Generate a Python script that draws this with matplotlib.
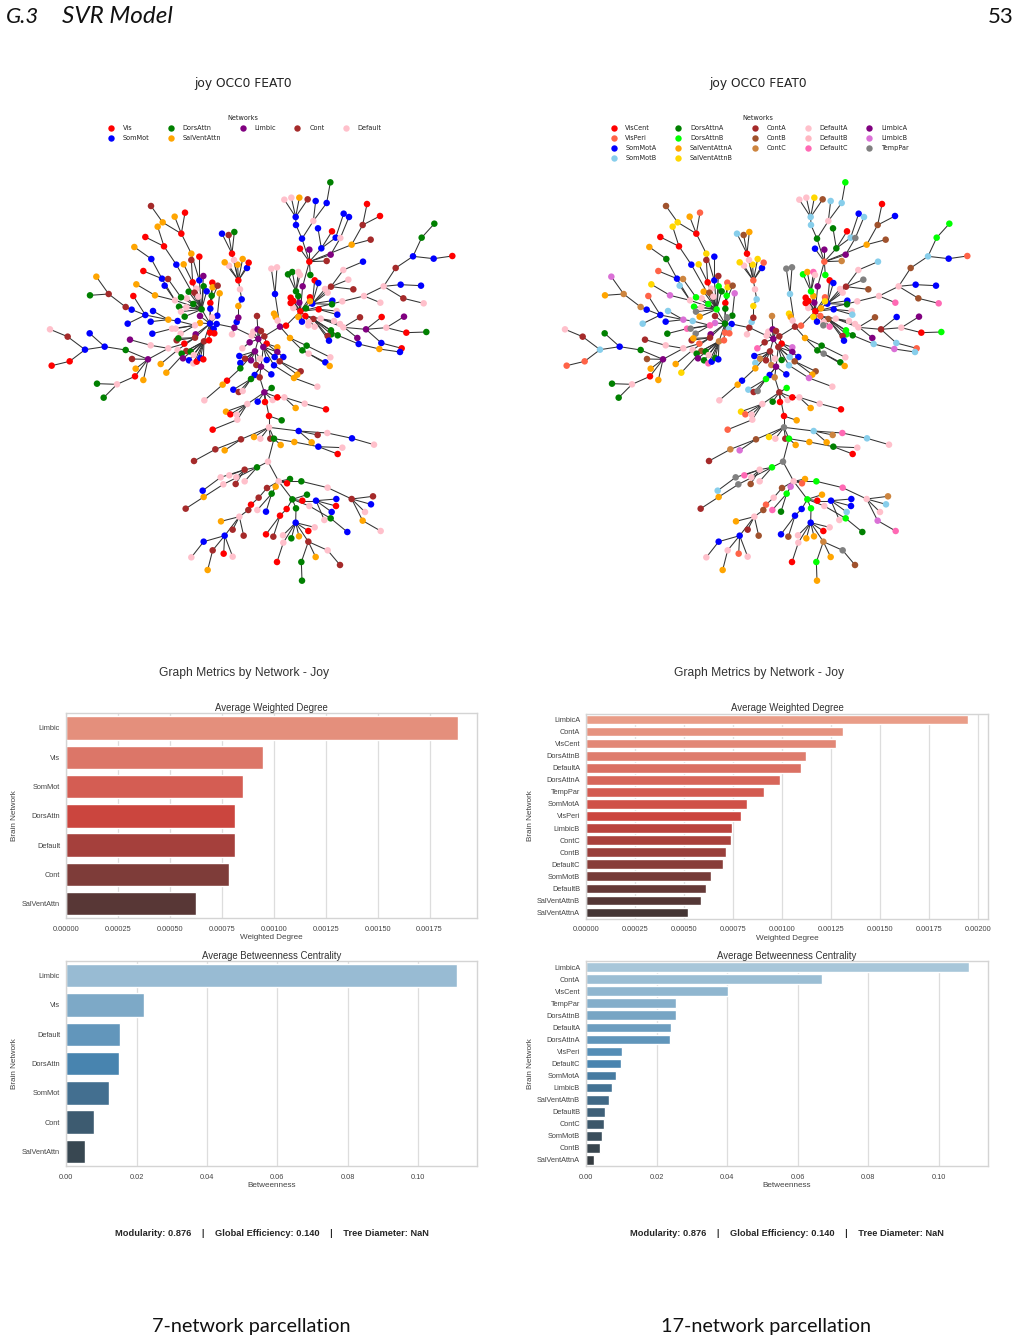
import matplotlib
matplotlib.use('Agg')
import matplotlib.pyplot as plt
from matplotlib.lines import Line2D
import pandas as pd
import seaborn as sns

sns.set_style('whitegrid')
plt.rcParams['font.family'] = ['Liberation Sans', 'DejaVu Sans']

# network names and node colours for both parcellations
nets_7 = ['Vis', 'SomMot', 'DorsAttn', 'SalVentAttn', 'Limbic', 'Cont', 'Default']
colors_7 = ['red', 'blue', 'green', 'orange', 'purple', 'brown', 'pink']
codes_7 = 'RBGOPCD'

nets_17 = ['VisCent', 'VisPeri', 'SomMotA', 'SomMotB', 'DorsAttnA', 'DorsAttnB',
           'SalVentAttnA', 'SalVentAttnB', 'ContA', 'ContB', 'ContC',
           'DefaultA', 'DefaultB', 'DefaultC', 'LimbicA', 'LimbicB', 'TempPar']
colors_17 = ['red', 'tomato', 'blue', 'skyblue', 'green', 'lime',
             'orange', 'gold', 'brown', 'sienna', 'peru',
             'pink', 'lightpink', 'hotpink', 'purple', 'orchid', 'gray']
codes_17 = 'abcdefghijklmnopq'

# tree nodes: x, y, parent x, parent y, 7-network code, 17-network code
west_nodes = [
    (613,473,613,473,'P','i'), (560,462,613,473,'B','c'), (540,461,560,462,'B','e'),
    (606,493,613,473,'D','l'), (620,456,613,473,'B','d'), (625,443,620,456,'P','i'),
    (625,408,625,443,'O','h'), (635,388,625,408,'B','d'), (630,358,635,388,'D','l'),
    (625,331,630,358,'R','b'), (651,294,625,331,'B','c'), (638,267,625,331,'O','h'),
    (623,284,625,331,'O','h'), (612,270,625,331,'D','l'), (597,287,625,331,'D','l'),
    (584,277,625,331,'O','h'), (656,278,625,331,'R','b'), (606,251,625,331,'R','a'),
    (576,191,606,251,'B','d'), (596,195,606,251,'C','j'), (613,186,606,251,'G','g'),
    (515,418,540,461,'G','f'), (488,337,515,418,'R','a'), (508,331,515,418,'B','c'),
    (484,251,508,331,'O','h'), (454,191,484,251,'R','a'), (465,128,454,191,'R','b'),
    (434,140,454,191,'O','g'), (398,157,454,191,'O','h'), (363,108,398,157,'C','j'),
    (508,260,508,331,'R','c'), (484,270,488,337,'C','i'), (461,283,488,337,'O','h'),
    (439,284,515,418,'B','c'), (402,229,439,284,'R','a'), (346,201,402,229,'R','a'),
    (383,170,402,229,'O','h'), (520,318,515,418,'P','i'), (521,349,515,418,'G','f'),
    (530,364,515,418,'B','e'), (476,365,515,418,'G','g'), (499,356,515,418,'D','l'),
    (493,368,515,418,'C','j'), (505,380,515,418,'D','l'), (470,385,515,418,'D','l'),
    (453,382,515,418,'G','f'), (490,402,515,418,'G','f'), (469,412,515,418,'D','l'),
    (447,410,515,418,'G','f'), (453,425,515,418,'D','q'), (464,440,515,418,'G','g'),
    (541,399,540,461,'R','a'), (547,338,541,399,'R','b'), (548,352,541,399,'O','h'),
    (563,347,541,399,'C','j'), (545,377,541,399,'G','f'), (541,416,540,461,'B','e'),
    (562,437,540,461,'B','e'), (569,370,562,437,'O','p'), (546,442,540,461,'D','q'),
    (551,477,540,461,'B','d'), (540,488,540,461,'R','b'), (553,490,540,461,'R','b'),
    (510,438,540,461,'P','i'), (510,459,540,461,'O','p'), (495,466,510,459,'D','n'),
    (443,453,495,466,'B','d'), (415,449,443,453,'O','p'), (346,435,415,449,'B','c'),
    (305,419,346,435,'B','c'), (287,411,305,419,'C','k'), (236,372,287,411,'C','k'),
    (199,320,236,372,'O','p'), (180,376,236,372,'G','g'), (310,378,346,435,'R','b'),
    (293,461,346,435,'B','d'), (369,423,415,449,'B','d'), (362,455,415,449,'B','c'),
    (435,391,515,418,'D','l'), (375,376,435,391,'O','p'), (319,343,375,376,'O','h'),
    (396,326,435,391,'B','c'), (364,267,396,326,'B','e'), (313,231,364,267,'O','g'),
    (340,303,396,326,'R','b'), (414,327,453,382,'C','k'), (404,347,435,391,'B','d'),
    (426,476,495,466,'D','n'), (437,476,495,466,'D','q'), (367,491,426,476,'B','e'),
    (452,491,495,466,'D','q'), (497,493,540,461,'P','o'), (495,503,540,461,'C','i'),
    (522,514,540,461,'C','k'), (537,511,540,461,'R','b'), (440,511,495,503,'C','i'),
    (445,505,495,503,'G','g'), (463,521,495,503,'R','b'), (469,543,522,514,'C','j'),
    (443,540,495,503,'D','l'), (455,551,522,514,'G','e'), (482,545,522,514,'G','e'),
    (491,555,522,514,'D','l'), (459,565,522,514,'P','o'), (477,571,522,514,'B','e'),
    (490,580,522,514,'D','n'), (500,575,522,514,'R','c'), (511,564,522,514,'B','e'),
    (520,568,522,514,'R','c'), (415,535,463,521,'D','l'), (354,568,415,535,'P','o'),
    (306,567,354,568,'C','j'), (317,596,354,568,'O','g'), (340,630,354,568,'O','g'),
    (315,619,354,568,'R','a'), (261,643,315,619,'D','l'), (201,641,261,643,'G','e'),
    (221,683,261,643,'G','e'), (287,540,354,568,'G','e'), (224,530,287,540,'B','c'),
    (179,490,224,530,'B','e'), (165,539,224,530,'B','d'), (113,500,165,539,'C','i'),
    (60,478,113,500,'D','l'), (119,574,165,539,'R','b'), (65,587,119,574,'R','b'),
    (362,526,415,535,'D','l'), (300,509,362,526,'P','i'), (392,582,443,540,'O','g'),
    (409,608,469,543,'O','h'), (591,632,631,595,'R','c'), (578,644,591,632,'O','g'),
    (523,691,578,644,'D','l'),
]

east_nodes = [
    (85,507,14,473,'P','o'), (103,499,85,507,'C','i'), (150,470,103,499,'P','i'),
    (168,467,150,470,'R','b'), (211,424,168,467,'R','a'), (70,485,85,507,'D','l'),
    (65,497,85,507,'D','l'), (83,478,85,507,'P','o'), (93,483,85,507,'C','i'),
    (59,517,85,507,'P','i'), (37,535,59,517,'D','n'), (110,521,103,499,'R','a'),
    (100,531,85,507,'P','i'), (142,532,110,521,'O','p'), (142,546,100,531,'P','o'),
    (75,544,85,507,'P','i'), (28,558,75,544,'B','c'), (63,571,75,544,'P','i'),
    (45,566,75,544,'C','k'), (31,579,75,544,'B','d'), (31,595,75,544,'G','g'),
    (90,566,75,544,'D','l'), (79,585,75,544,'C','k'), (110,570,100,531,'B','e'),
    (134,561,100,531,'B','d'), (160,561,110,521,'B','c'), (149,574,100,531,'C','j'),
    (132,586,100,531,'B','d'), (212,604,149,574,'C','j'), (202,614,149,574,'O','g'),
    (192,624,132,586,'O','p'), (262,650,192,624,'D','l'), (93,590,100,531,'P','o'),
    (74,615,93,590,'B','c'), (124,613,93,590,'B','c'), (63,627,93,590,'G','f'),
    (89,622,93,590,'C','k'), (10,659,63,627,'B','d'), (26,666,63,627,'C','i'),
    (38,663,63,627,'D','q'), (81,438,85,507,'C','k'), (135,372,150,470,'B','d'),
    (124,296,135,372,'D','q'), (141,292,135,372,'D','q'), (132,431,150,470,'O','h'),
    (137,441,150,470,'O','g'), (143,452,150,470,'D','l'), (180,504,150,470,'O','g'),
    (230,527,180,504,'G','e'), (301,562,230,527,'D','l'), (217,541,180,504,'G','e'),
    (236,551,217,541,'D','q'), (286,577,217,541,'B','e'), (299,588,236,551,'O','g'),
    (190,414,211,424,'D','l'), (205,441,211,424,'O','h'), (216,455,211,424,'B','c'),
    (226,438,211,424,'R','b'), (228,415,211,424,'G','g'), (208,398,211,424,'P','o'),
    (190,393,211,424,'R','a'), (182,383,211,424,'R','a'), (182,399,211,424,'R','a'),
    (205,378,211,424,'G','g'), (198,364,211,424,'G','f'), (218,349,211,424,'P','o'),
    (174,313,198,364,'G','f'), (187,306,198,364,'G','g'), (205,306,198,364,'D','n'),
    (210,315,198,364,'D','l'), (238,275,218,349,'R','b'), (241,315,238,275,'G','f'),
    (210,236,238,275,'R','c'), (238,239,238,275,'P','o'), (274,235,238,275,'B','e'),
    (302,254,238,275,'P','o'), (290,273,238,275,'C','k'), (264,175,274,235,'B','e'),
    (306,184,274,235,'R','a'), (317,203,274,235,'B','d'), (331,204,302,254,'D','q'),
    (341,131,317,203,'B','c'), (357,141,331,204,'B','d'), (216,206,238,275,'B','e'),
    (198,165,216,206,'B','d'), (197,141,198,165,'B','d'), (163,89,197,141,'D','l'),
    (184,83,197,141,'D','l'), (208,83,197,141,'O','h'), (233,88,197,141,'C','j'),
    (250,153,216,206,'D','l'), (257,93,250,153,'B','d'), (290,99,250,153,'B','d'),
    (301,37,290,99,'G','f'), (365,224,238,275,'O','g'), (398,165,365,224,'C','j'),
    (411,102,398,165,'R','a'), (450,138,398,165,'R','c'), (422,209,365,224,'C','j'),
    (247,401,211,424,'B','c'), (240,382,211,424,'R','b'), (240,394,211,424,'O','h'),
    (254,331,247,401,'R','a'), (265,339,247,401,'B','c'), (285,357,247,401,'D','l'),
    (293,368,247,401,'D','l'), (303,350,247,401,'C','i'), (340,300,303,350,'D','l'),
    (355,329,303,350,'D','q'), (370,358,303,350,'C','j'), (399,275,340,300,'B','d'),
    (307,392,247,401,'B','c'), (306,403,247,401,'G','e'), (337,394,211,424,'D','l'),
    (402,378,337,394,'D','l'), (461,349,402,378,'D','l'), (451,398,402,378,'D','n'),
    (497,294,461,349,'C','j'), (549,259,497,294,'B','d'), (575,203,549,259,'G','f'),
    (613,161,575,203,'G','f'), (611,266,549,259,'B','c'), (667,258,611,266,'R','b'),
    (512,344,461,349,'B','c'), (573,347,512,344,'B','c'), (520,385,461,349,'C','j'),
    (581,400,520,385,'D','n'), (266,418,211,424,'R','c'), (320,423,266,418,'D','l'),
    (322,434,266,418,'B','d'), (272,446,226,438,'D','l'), (250,447,226,438,'C','j'),
    (236,456,226,438,'D','l'), (235,466,226,438,'D','q'), (254,470,226,438,'D','n'),
    (312,453,272,446,'D','l'), (330,462,272,446,'D','l'), (340,472,272,446,'D','l'),
    (390,442,340,472,'C','j'), (408,478,340,472,'P','i'), (455,441,408,478,'R','c'),
    (469,473,408,478,'D','l'), (522,440,469,473,'P','o'), (529,488,469,473,'R','a'),
    (589,486,529,488,'G','f'), (454,519,408,478,'B','d'), (515,535,454,519,'R','b'),
    (382,504,330,462,'P','o'), (323,496,250,447,'G','e'), (386,522,323,496,'B','d'),
    (448,537,386,522,'O','p'), (510,546,448,537,'B','d'), (303,481,250,447,'G','f'),
    (304,493,250,447,'G','f'), (293,498,250,447,'C','i'), (297,512,250,447,'B','c'),
]

south_nodes = [
    (283,37,269,-8,'P','i'), (305,24,283,37,'G','f'), (263,65,283,37,'B','e'),
    (285,66,283,37,'R','a'), (308,60,283,37,'D','l'), (322,52,283,37,'R','a'),
    (343,52,322,52,'D','l'), (377,84,343,52,'O','g'), (404,71,343,52,'D','l'),
    (468,88,404,71,'R','a'), (232,72,283,37,'D','l'), (168,95,232,72,'O','h'),
    (181,103,232,72,'R','b'), (200,104,232,72,'D','l'), (202,119,232,72,'D','l'),
    (128,149,202,119,'R','b'), (297,108,283,37,'R','a'), (335,121,297,108,'G','g'),
    (297,142,297,108,'D','q'), (386,153,297,142,'B','d'), (443,165,386,153,'C','k'),
    (425,187,386,153,'O','g'), (472,159,386,153,'D','n'), (546,175,472,159,'B','d'),
    (612,194,546,175,'D','l'), (213,178,297,142,'C','j'), (136,208,213,178,'C','k'),
    (72,243,136,208,'C','i'), (164,211,213,178,'O','p'), (252,171,297,142,'O','h'),
    (271,176,297,142,'D','l'), (301,176,297,142,'C','i'), (312,176,297,142,'G','f'),
    (332,195,312,176,'O','g'), (373,186,312,176,'O','g'), (445,200,373,186,'B','e'),
    (517,203,445,200,'D','l'), (503,222,445,200,'R','a'), (294,245,312,176,'D','q'),
    (261,262,294,245,'G','f'), (224,269,261,262,'C','l'), (152,292,224,269,'D','q'),
    (178,286,224,269,'D','n'), (199,292,224,269,'D','l'), (197,312,224,269,'C','j'),
    (224,304,261,262,'D','l'), (160,313,261,262,'D','q'), (101,351,160,313,'O','g'),
    (47,386,101,351,'C','i'), (98,332,152,292,'B','d'), (326,304,294,245,'D','l'),
    (360,297,326,304,'G','g'), (351,310,326,304,'R','b'), (394,304,326,304,'G','f'),
    (473,323,394,304,'D','n'), (545,357,473,323,'C','l'), (609,349,545,357,'C','k'),
    (603,373,545,357,'B','d'), (585,396,545,357,'D','l'), (578,422,545,357,'O','p'),
    (632,453,578,422,'D','n'), (367,358,326,304,'G','f'), (411,344,367,358,'G','g'),
    (397,362,367,358,'R','a'), (438,362,397,362,'B','c'), (499,357,438,362,'B','c'),
    (498,378,438,362,'R','c'), (485,396,438,362,'B','d'), (463,420,438,362,'D','l'),
    (418,378,367,358,'D','l'), (482,415,418,378,'G','f'), (532,456,482,415,'B','e'),
    (378,385,367,358,'G','f'), (350,387,367,358,'R','c'), (330,407,350,387,'R','c'),
    (288,463,330,407,'R','c'), (310,470,330,407,'C','j'), (377,428,378,385,'B','c'),
    (434,442,377,428,'D','l'), (415,453,377,428,'R','a'), (387,469,377,428,'O','g'),
    (364,475,377,428,'G','g'), (339,466,377,428,'D','l'), (340,488,377,428,'D','l'),
    (321,546,340,488,'R','a'), (415,485,377,428,'C','k'), (473,511,415,485,'D','q'),
    (510,555,473,511,'C','j'), (437,531,415,485,'O','g'), (394,546,415,485,'G','f'),
    (396,602,394,546,'G','g'), (317,320,326,304,'O','p'), (305,341,317,320,'G','f'),
    (262,390,305,341,'D','n'), (288,395,305,341,'B','e'), (291,324,326,304,'C','j'),
    (266,353,291,324,'C','l'), (243,374,266,353,'R','b'), (235,390,243,374,'C','j'),
    (208,410,235,390,'D','l'), (153,424,208,410,'O','g'), (188,449,208,410,'C','i'),
    (221,467,208,410,'C','j'), (164,467,208,410,'B','c'), (101,485,164,467,'B','c'),
    (64,532,101,485,'D','l'), (128,511,164,467,'C','l'), (113,570,128,511,'O','g'),
    (161,521,164,467,'R','b'), (188,530,164,467,'D','l'),
]

# bar values for the 7-network panels
wd_7_names = ['Limbic', 'Vis', 'SomMot', 'DorsAttn', 'Default', 'Cont', 'SalVentAttn']
wd_7_vals = [0.001885, 0.000946, 0.000853, 0.000811, 0.000811, 0.000786, 0.000625]
bc_7_names = ['Limbic', 'Vis', 'Default', 'DorsAttn', 'SomMot', 'Cont', 'SalVentAttn']
bc_7_vals = [0.1111, 0.0222, 0.0153, 0.0150, 0.0122, 0.0079, 0.0054]

# bar values for the 17-network panels
wd_17_names = ['LimbicA', 'ContA', 'VisCent', 'DorsAttnB', 'DefaultA', 'DorsAttnA',
               'TempPar', 'SomMotA', 'VisPeri', 'LimbicB', 'ContC', 'ContB',
               'DefaultC', 'SomMotB', 'DefaultB', 'SalVentAttnB', 'SalVentAttnA']
wd_17_vals = [0.00195, 0.00131, 0.001272, 0.00112, 0.001097, 0.000986,
              0.000906, 0.000818, 0.000791, 0.000743, 0.000738, 0.000711,
              0.0007, 0.000634, 0.000612, 0.000585, 0.000517]
bc_17_names = ['LimbicA', 'ContA', 'VisCent', 'TempPar', 'DorsAttnB', 'DefaultA',
               'DorsAttnA', 'VisPeri', 'DefaultC', 'SomMotA', 'LimbicB', 'SalVentAttnB',
               'DefaultB', 'ContC', 'SomMotB', 'ContB', 'SalVentAttnA']
bc_17_vals = [0.1085, 0.0669, 0.0403, 0.02554, 0.02535, 0.0240,
              0.02375, 0.0102, 0.00975, 0.0085, 0.0072, 0.0063,
              0.0053, 0.0050, 0.00435, 0.0040, 0.0023]

stats_text = 'Modularity: 0.876    |    Global Efficiency: 0.140    |    Tree Diameter: NaN'

W, H = 1019, 1344
fig = plt.figure(figsize=(W / 100, H / 100), dpi=100, facecolor='white')

# full-page axes in pixel units for the tree layouts and page text
page = fig.add_axes([0, 0, 1, 1])
page.set_xlim(0, W)
page.set_ylim(H, 0)
page.axis('off')
page.grid(False)


def draw_tree(x_shift, code_col, codes, colors):
    for rows, dx, dy in [(west_nodes, 0, 0), (east_nodes, 600, 0), (south_nodes, 420, 630)]:
        for x, y, px, py, c7, c17 in rows:
            x0 = 30 + (x + dx) / 3 + x_shift
            y0 = 170 + (y + dy) / 3
            x1 = 30 + (px + dx) / 3 + x_shift
            y1 = 170 + (py + dy) / 3
            page.plot([x0, x1], [y0, y1], color='#333333', lw=0.75, zorder=1,
                      solid_capstyle='round')
    for rows, dx, dy in [(west_nodes, 0, 0), (east_nodes, 600, 0), (south_nodes, 420, 630)]:
        xs = [30 + (r[0] + dx) / 3 + x_shift for r in rows]
        ys = [170 + (r[1] + dy) / 3 for r in rows]
        cs = [colors[codes.index(r[code_col])] for r in rows]
        page.scatter(xs, ys, c=cs, s=22, linewidths=0, zorder=2)


draw_tree(0, 4, codes_7, colors_7)
draw_tree(515, 5, codes_17, colors_17)


def add_legend(names, colors, cx, ncol):
    handles = [Line2D([], [], linestyle='none', marker='o', markersize=4.6,
                      markeredgewidth=0, color=c) for c in colors]
    leg = fig.legend(handles, names, title='Networks', ncol=ncol, frameon=False,
                     loc='upper center', bbox_to_anchor=(cx / W, 1 - 113 / H),
                     fontsize=4.7, title_fontsize=4.7, labelspacing=0.62,
                     columnspacing=2.3, borderpad=0.3, borderaxespad=0)
    for t in leg.get_texts():
        t.set_family('DejaVu Sans')
        t.set_color('#222222')
    leg.get_title().set_family('DejaVu Sans')
    leg.get_title().set_color('#222222')


add_legend(nets_7, colors_7, 243, 5)
add_legend(nets_17, colors_17, 758, 5)


def bar_panel(names, vals, palette, rect, xmax, title, xlabel, xticks, fmt, ylab_px):
    left, top, width, height = rect
    ax = fig.add_axes([left / W, 1 - (top + height) / H, width / W, height / H])
    df = pd.DataFrame({'net': names, 'val': vals})
    sns.barplot(data=df, y='net', x='val', hue='net', dodge=False, legend=False,
                palette=sns.color_palette(palette, len(names)), ax=ax)
    ax.set_xlim(0, xmax)
    ax.set_xticks(xticks)
    ax.set_xticklabels([fmt % t for t in xticks], fontsize=5.3, color='#444444')
    ax.tick_params(axis='y', labelsize=5.3, labelcolor='#444444', pad=4.5, length=0)
    ax.tick_params(axis='x', pad=5.5, length=0)
    ax.grid(axis='x', color='#dddddd', lw=0.9)
    ax.grid(axis='y', visible=False)
    ax.set_axisbelow(True)
    for s in ax.spines.values():
        s.set_color('#d4d4d4')
        s.set_linewidth(1.0)
    ax.set_title(title, fontsize=6.9, color='#333333', pad=1.6)
    ax.set_xlabel(xlabel, fontsize=5.9, color='#444444')
    ax.set_ylabel('Brain Network', fontsize=5.9, color='#444444')
    ax.xaxis.set_label_coords(0.5, -16.0 / height)
    ax.yaxis.set_label_coords((ylab_px - left) / width, 0.5)
    return ax


wd_ticks_7 = [0, 0.00025, 0.0005, 0.00075, 0.001, 0.00125, 0.0015, 0.00175]
wd_ticks_17 = wd_ticks_7 + [0.002]
bc_ticks = [0, 0.02, 0.04, 0.06, 0.08, 0.10]

bar_panel(wd_7_names, wd_7_vals, 'Reds_d', (66.3, 713.3, 411, 205), 0.00198,
          'Average Weighted Degree', 'Weighted Degree', wd_ticks_7, '%.5f', 18.5)
bar_panel(bc_7_names, bc_7_vals, 'Blues_d', (66.3, 961, 411, 205), 0.1168,
          'Average Betweenness Centrality', 'Betweenness', bc_ticks, '%.2f', 18.5)
bar_panel(wd_17_names, wd_17_vals, 'Reds_d', (586.3, 713.5, 401.4, 205), 0.002048,
          'Average Weighted Degree', 'Weighted Degree', wd_ticks_17, '%.5f', 533.5)
bar_panel(bc_17_names, bc_17_vals, 'Blues_d', (586.3, 961, 401.4, 205), 0.1139,
          'Average Betweenness Centrality', 'Betweenness', bc_ticks, '%.2f', 533.5)

# titles and captions placed on the page axes
for cx, chart_cx, caption in [(242, 272, '7-network parcellation'),
                              (757, 787, '17-network parcellation')]:
    page.text(cx + 1, 83, 'joy OCC0 FEAT0', family='DejaVu Sans', fontsize=8.8,
              color='#222222', ha='center', va='center')
    page.text(cx + 2.5, 673, 'Graph Metrics by Network - Joy', fontsize=8.7,
              color='#333333', ha='center', va='center')
    page.text(chart_cx, 1233, stats_text, fontsize=6.7, fontweight='bold',
              color='#262626', ha='center', va='center')
    page.text(cx + 9, 1332, caption, family='Lato', fontsize=14.3, color='#111111',
              ha='center', va='baseline')

page.text(6, 23, 'G.3', family='Lato', style='italic', fontsize=16,
          color='#111111', ha='left', va='baseline')
page.text(62, 23, 'SVR Model', family='Lato', style='italic', fontsize=17.5,
          color='#111111', ha='left', va='baseline')
page.text(1014, 23, '53', family='Lato', fontsize=16, color='#111111',
          ha='right', va='baseline')

fig.savefig('out.png', dpi=100)
